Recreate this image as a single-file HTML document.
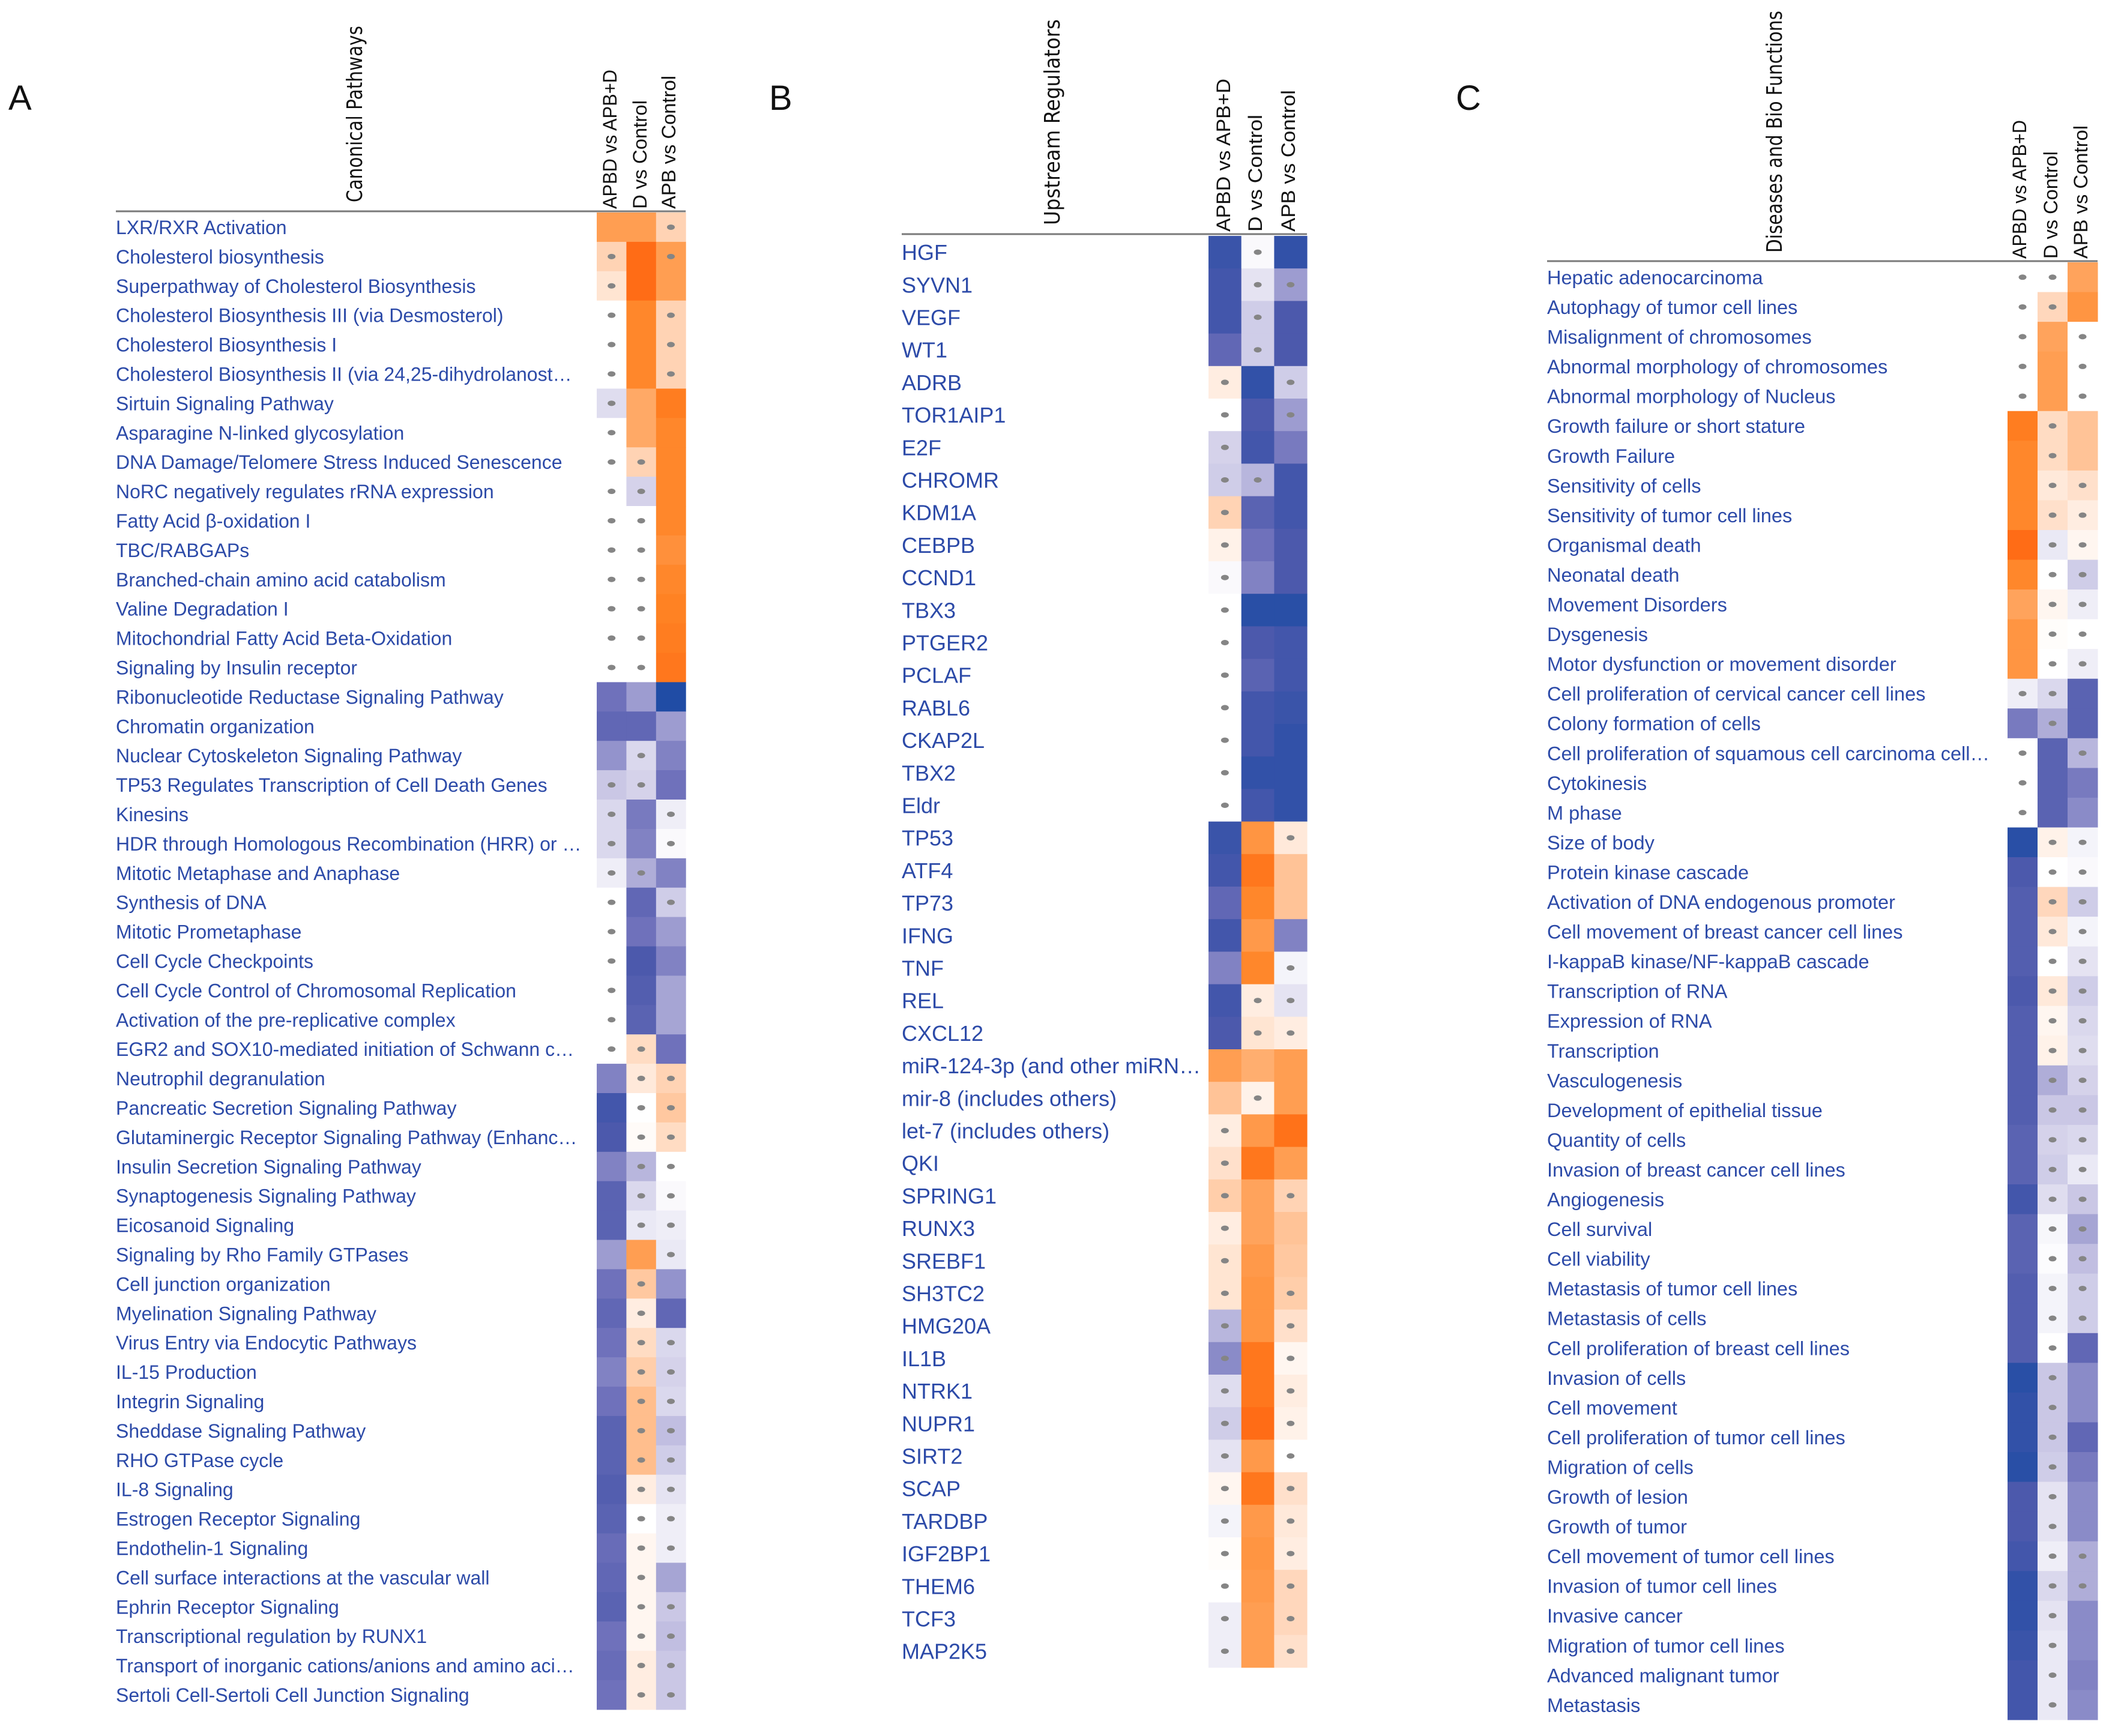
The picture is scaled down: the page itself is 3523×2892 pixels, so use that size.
<!DOCTYPE html>
<html><head><meta charset="utf-8">
<style>
html,body{margin:0;padding:0;background:#fff;}
svg{display:block;}
.lbl{font-family:"Liberation Sans",Arial,sans-serif;fill:#2c4aa8;}
.ttl{font-family:"DejaVu Sans","Liberation Sans",sans-serif;fill:#111;}
.colh{font-family:"Liberation Sans Narrow","Liberation Sans",sans-serif;fill:#111;}
.pl{font-family:"Liberation Sans Narrow","Liberation Sans",sans-serif;fill:#111;}
</style></head>
<body>
<svg id="fig" width="3523" height="2892" viewBox="0 0 3523 2892" xmlns="http://www.w3.org/2000/svg">
<rect width="3523" height="2892" fill="#fff"/>
</svg>
<script>
const comparisons = ["APBD vs APB+D","D vs Control","APB vs Control"];

const labelsA = ["LXR/RXR Activation","Cholesterol biosynthesis","Superpathway of Cholesterol Biosynthesis","Cholesterol Biosynthesis III (via Desmosterol)","Cholesterol Biosynthesis I","Cholesterol Biosynthesis II (via 24,25-dihydrolanost\u2026","Sirtuin Signaling Pathway","Asparagine N-linked glycosylation","DNA Damage/Telomere Stress Induced Senescence","NoRC negatively regulates rRNA expression","Fatty Acid \u03b2-oxidation I","TBC/RABGAPs","Branched-chain amino acid catabolism","Valine Degradation I","Mitochondrial Fatty Acid Beta-Oxidation","Signaling by Insulin receptor","Ribonucleotide Reductase Signaling Pathway","Chromatin organization","Nuclear Cytoskeleton Signaling Pathway","TP53 Regulates Transcription of Cell Death Genes","Kinesins","HDR through Homologous Recombination (HRR) or \u2026","Mitotic Metaphase and Anaphase","Synthesis of DNA","Mitotic Prometaphase","Cell Cycle Checkpoints","Cell Cycle Control of Chromosomal Replication","Activation of the pre-replicative complex","EGR2 and SOX10-mediated initiation of Schwann c\u2026","Neutrophil degranulation","Pancreatic Secretion Signaling Pathway","Glutaminergic Receptor Signaling Pathway (Enhanc\u2026","Insulin Secretion Signaling Pathway","Synaptogenesis Signaling Pathway","Eicosanoid Signaling","Signaling by Rho Family GTPases","Cell junction organization","Myelination Signaling Pathway","Virus Entry via Endocytic Pathways","IL-15 Production","Integrin Signaling","Sheddase Signaling Pathway","RHO GTPase cycle","IL-8 Signaling","Estrogen Receptor Signaling","Endothelin-1 Signaling","Cell surface interactions at the vascular wall","Ephrin Receptor Signaling","Transcriptional regulation by RUNX1","Transport of inorganic cations/anions and amino aci\u2026","Sertoli Cell-Sertoli Cell Junction Signaling"];
const valsA1 = [2,1,0.6,0,0,0,-0.6,0,0,0,0,0,0,0,0,0,-2,-2.2,-1.6,-1,-0.7,-0.7,-0.3,0,0,0,0,0,0,-1.8,-2.6,-2.5,-1.8,-2.3,-2.3,-1.5,-2,-2.2,-2,-1.8,-2,-2.3,-2.3,-2.4,-2.3,-2.1,-2.2,-2.3,-2,-2.1,-2];
const valsA2 = [2,3,3,2.5,2.5,2.5,1.8,1.8,1,-0.8,0,0,0,0,0,0,-1.5,-2.2,-0.7,-0.8,-1.9,-1.8,-1.3,-2.2,-2,-2.5,-2.4,-2.3,0.8,0.5,0,0.1,-1.2,-0.7,-0.4,2,1.2,0.4,0.8,1.1,1.4,1.4,1.4,0.4,0,0.2,0.2,0.2,0.2,0.4,0.4];
const valsA3 = [1,2,2,1,1,1,2.7,2.5,2.5,2.5,2.5,2.3,2.5,2.6,2.7,2.8,-3,-1.5,-1.8,-2,-0.3,-0.1,-1.8,-0.9,-1.5,-1.8,-1.4,-1.4,-2,1,1.2,0.8,0,-0.1,-0.3,-0.4,-1.6,-2.2,-0.7,-0.8,-0.7,-1.1,-0.9,-0.5,-0.3,-0.3,-1.4,-1,-1.1,-1,-1];
const dotsA1 = [0,1,1,1,1,1,1,1,1,1,1,1,1,1,1,1,0,0,0,1,1,1,1,1,1,1,1,1,1,0,0,0,0,0,0,0,0,0,0,0,0,0,0,0,0,0,0,0,0,0,0];
const dotsA2 = [0,0,0,0,0,0,0,0,1,1,1,1,1,1,1,1,0,0,1,1,0,0,1,0,0,0,0,0,1,1,1,1,1,1,1,0,1,1,1,1,1,1,1,1,1,1,1,1,1,1,1];
const dotsA3 = [1,1,0,1,1,1,0,0,0,0,0,0,0,0,0,0,0,0,0,0,1,1,0,1,0,0,0,0,0,1,1,1,1,1,1,1,0,0,1,1,1,1,1,1,1,1,0,1,1,1,1];

const labelsB = ["HGF","SYVN1","VEGF","WT1","ADRB","TOR1AIP1","E2F","CHROMR","KDM1A","CEBPB","CCND1","TBX3","PTGER2","PCLAF","RABL6","CKAP2L","TBX2","Eldr","TP53","ATF4","TP73","IFNG","TNF","REL","CXCL12","miR-124-3p (and other miRN\u2026","mir-8 (includes others)","let-7 (includes others)","QKI","SPRING1","RUNX3","SREBF1","SH3TC2","HMG20A","IL1B","NTRK1","NUPR1","SIRT2","SCAP","TARDBP","IGF2BP1","THEM6","TCF3","MAP2K5"];
const valsB1 = [-2.7,-2.6,-2.6,-2.2,0.4,0,-0.8,-0.9,1,0.3,-0.1,0,0,0,0,0,0,0,-2.7,-2.6,-2.2,-2.6,-1.8,-2.6,-2.5,2,1.3,0.4,0.7,1.1,0.4,0.6,0.6,-1.2,-1.7,-0.6,-0.9,-0.5,0.2,-0.2,0.05,0,-0.3,-0.3];
const valsB2 = [-0.1,-0.5,-0.9,-0.9,-2.8,-2.5,-2.6,-1.2,-2.3,-2,-1.8,-2.9,-2.5,-2.3,-2.6,-2.6,-2.8,-2.6,2.2,2.8,2.5,2.1,2.5,0.4,0.6,1.7,0.3,2.1,2.8,1.9,1.9,2.1,2.2,2.2,2.8,2.8,3,2.1,2.8,2.1,2.2,2.1,2,2];
const valsB3 = [-2.8,-1.5,-2.5,-2.5,-0.9,-1.5,-1.9,-2.6,-2.6,-2.5,-2.5,-2.9,-2.6,-2.6,-2.7,-2.8,-2.8,-2.8,0.5,1.3,1.3,-1.8,-0.2,-0.5,0.4,2,2,2.9,2,1,1.3,1.2,1.1,0.7,0.2,0.4,0.3,0,0.7,0.5,0.4,0.9,0.9,0.7];
const dotsB1 = [0,0,0,0,1,1,1,1,1,1,1,1,1,1,1,1,1,1,0,0,0,0,0,0,0,0,0,1,1,1,1,1,1,1,1,1,1,1,1,1,1,1,1,1];
const dotsB2 = [1,1,1,1,0,0,0,1,0,0,0,0,0,0,0,0,0,0,0,0,0,0,0,1,1,0,1,0,0,0,0,0,0,0,0,0,0,0,0,0,0,0,0,0];
const dotsB3 = [0,1,0,0,1,1,0,0,0,0,0,0,0,0,0,0,0,0,1,0,0,0,1,1,1,0,0,0,0,1,0,0,1,1,1,1,1,1,1,1,1,1,1,1];

const labelsC = ["Hepatic adenocarcinoma","Autophagy of tumor cell lines","Misalignment of chromosomes","Abnormal morphology of chromosomes","Abnormal morphology of Nucleus","Growth failure or short stature","Growth Failure","Sensitivity of cells","Sensitivity of tumor cell lines","Organismal death","Neonatal death","Movement Disorders","Dysgenesis","Motor dysfunction or movement disorder","Cell proliferation of cervical cancer cell lines","Colony formation of cells","Cell proliferation of squamous cell carcinoma cell\u2026","Cytokinesis","M phase","Size of body","Protein kinase cascade","Activation of DNA endogenous promoter","Cell movement of breast cancer cell lines","I-kappaB kinase/NF-kappaB cascade","Transcription of RNA","Expression of RNA","Transcription","Vasculogenesis","Development of epithelial tissue","Quantity of cells","Invasion of breast cancer cell lines","Angiogenesis","Cell survival","Cell viability","Metastasis of tumor cell lines","Metastasis of cells","Cell proliferation of breast cell lines","Invasion of cells","Cell movement","Cell proliferation of tumor cell lines","Migration of cells","Growth of lesion","Growth of tumor","Cell movement of tumor cell lines","Invasion of tumor cell lines","Invasive cancer","Migration of tumor cell lines","Advanced malignant tumor","Metastasis"];
const valsC1 = [0,0,0,0,0,2.7,2.5,2.5,2.5,3,2.5,1.9,2.2,2.2,-0.3,-1.9,0,0,0,-2.9,-2.5,-2.4,-2.4,-2.4,-2.5,-2.4,-2.4,-2.4,-2.4,-2.3,-2.3,-2.6,-2.3,-2.3,-2.4,-2.4,-2.4,-2.9,-2.8,-2.8,-2.9,-2.5,-2.5,-2.6,-2.8,-2.8,-2.7,-2.6,-2.6];
const valsC2 = [0,0.9,1.9,2,2,0.8,0.8,0.5,0.7,-0.4,0,0.2,0.05,0,-0.7,-1.3,-2.3,-2.3,-2.3,0.3,0,0.9,0.5,0,0.5,0.2,0.3,-1.3,-1,-0.8,-0.9,-0.6,-0.15,-0.05,-0.2,-0.2,0,-1,-1,-1,-0.9,-0.5,-0.5,-0.3,-0.7,-0.5,-0.4,-0.4,-0.4];
const valsC3 = [1.9,2.2,0,0,0,1.3,1.3,0.7,0.4,0.2,-0.9,-0.3,0,-0.3,-2.3,-2.3,-1.2,-1.9,-1.7,-0.2,-0.1,-0.9,-0.2,-0.5,-0.9,-0.7,-0.6,-0.8,-1,-0.7,-0.4,-1,-1.4,-1.1,-0.9,-0.9,-2.2,-1.7,-1.7,-2.2,-1.9,-1.7,-1.7,-1.3,-1.3,-1.7,-1.7,-1.8,-1.7];
const dotsC1 = [1,1,1,1,1,0,0,0,0,0,0,0,0,0,1,0,1,1,1,0,0,0,0,0,0,0,0,0,0,0,0,0,0,0,0,0,0,0,0,0,0,0,0,0,0,0,0,0,0];
const dotsC2 = [1,1,0,0,0,1,1,1,1,1,1,1,1,1,1,1,0,0,0,1,1,1,1,1,1,1,1,1,1,1,1,1,1,1,1,1,1,1,1,1,1,1,1,1,1,1,1,1,1];
const dotsC3 = [0,0,1,1,1,0,0,1,1,1,1,1,1,1,0,0,1,0,0,1,1,1,1,1,1,1,1,1,1,1,1,1,1,1,1,1,0,0,0,0,0,0,0,1,1,0,0,0,0];

const NS = "http://www.w3.org/2000/svg";
const svg = document.getElementById("fig");

function lerp(a,b,t){return Math.round(a+(b-a)*t);}
function stops(list,v){
  for(let i=0;i<list.length-1;i++){
    if(v<=list[i+1][0]){const t=(v-list[i][0])/(list[i+1][0]-list[i][0]);
      const c=list[i][1],d=list[i+1][1];return `rgb(${lerp(c[0],d[0],t)},${lerp(c[1],d[1],t)},${lerp(c[2],d[2],t)})`;}
  }
  const c=list[list.length-1][1];return `rgb(${c[0]},${c[1]},${c[2]})`;
}
const orangeStops=[[0,[255,255,255]],[1,[255,211,180]],[2,[255,158,82]],[2.6,[255,130,35]],[3,[255,108,22]]];
const blueStops=[[0,[255,255,255]],[1,[202,199,229]],[2,[111,113,187]],[2.5,[76,89,172]],[3,[32,76,165]]];
function colorScale(v){ return v>=0 ? stops(orangeStops,Math.min(v,3)) : stops(blueStops,Math.min(-v,3)); }

function el(tag,attrs,parent){const e=document.createElementNS(NS,tag);for(const k in attrs)e.setAttribute(k,attrs[k]);(parent||svg).appendChild(e);return e;}

function drawPanel(p){
  const g=el("g",{});
  
  
  const L=el("text",{x:p.letterX,y:183,class:"pl","font-size":58},g);
  
  
  L.textContent=p.letter;
  const T=el("text",{x:0,y:0,class:"ttl","font-size":36,transform:`translate(${p.titleX},${p.titleBottom}) rotate(-90)`,textLength:p.titleLen,lengthAdjust:"spacingAndGlyphs"},g);
  
  
  T.textContent=p.title;
  comparisons.forEach((c,j)=>{
    const h=el("text",{x:0,y:0,class:"colh","font-size":32,transform:`translate(${p.colHX[j]},${p.headerY-4}) rotate(-90)`,textLength:p.colHLen[j],lengthAdjust:"spacingAndGlyphs"},g);
    
    
    h.textContent=c;
  });
  const ln=el("line",{x1:p.labelX,x2:p.x0+3*p.colW,y1:p.headerY,y2:p.headerY,stroke:"#7a7a7a","stroke-width":3},g);
  
  
  const cols=[p.v1,p.v2,p.v3], dots=[p.d1,p.d2,p.d3];
  p.labels.forEach((lab,i)=>{
    const y=p.top+i*p.rowH;
    const t=el("text",{x:p.labelX,y:y+p.rowH/2+p.fs*0.36,class:"lbl","font-size":p.fs},g);
    
    
    t.textContent=lab;
    for(let j=0;j<3;j++){
      const r=el("rect",{x:p.x0+j*p.colW,y:y,width:p.colW+0.5,height:p.rowH+0.5,fill:colorScale(cols[j][i])},g);
      
      
      if(dots[j][i]){
        const d=el("ellipse",{cx:p.x0+(j+0.5)*p.colW,cy:y+p.rowH/2,rx:6.5,ry:4.5,fill:"#858585"},g);
        
        
      }
    }
  });
}

drawPanel({name:"panel-a",letter:"A",letterX:14,title:"Canonical Pathways",titleX:603,titleBottom:337,titleLen:294,
  headerY:352,colHX:[1027,1077,1125],colHLen:[232,181,222],
  labels:labelsA,v1:valsA1,v2:valsA2,v3:valsA3,d1:dotsA1,d2:dotsA2,d3:dotsA3,
  labelX:193,fs:32,top:354,rowH:48.9,x0:994,colW:49.4});
drawPanel({name:"panel-b",letter:"B",letterX:1281,title:"Upstream Regulators",titleX:1765,titleBottom:375,titleLen:343,
  headerY:390,colHX:[2049,2102,2157],colHLen:[255,195,236],
  labels:labelsB,v1:valsB1,v2:valsB2,v3:valsB3,d1:dotsB1,d2:dotsB2,d3:dotsB3,
  labelX:1502,fs:36,top:393,rowH:54.2,x0:2013,colW:54.7});
drawPanel({name:"panel-c",letter:"C",letterX:2425,title:"Diseases and Bio Functions",titleX:2968,titleBottom:421,titleLen:403,
  headerY:435,colHX:[3375,3427,3477],colHLen:[231,179,222],
  labels:labelsC,v1:valsC1,v2:valsC2,v3:valsC3,d1:dotsC1,d2:dotsC2,d3:dotsC3,
  labelX:2577,fs:32.5,top:437,rowH:49.55,x0:3344,colW:50});
</script>
</body></html>
